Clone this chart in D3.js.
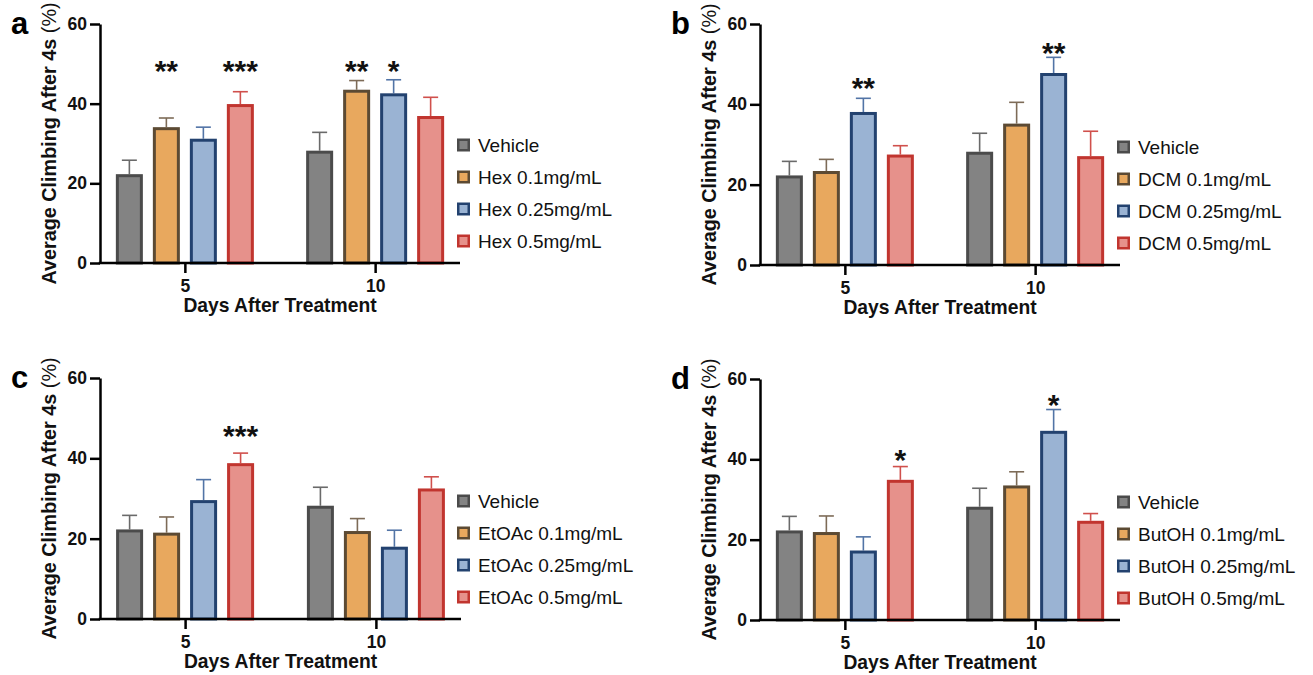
<!DOCTYPE html>
<html><head><meta charset="utf-8">
<script src="https://cdn.jsdelivr.net/npm/d3@7/dist/d3.min.js"></script>
<style>
html,body{margin:0;padding:0;background:#fff;}
svg{display:block;font-family:"Liberation Sans",Arial,Helvetica,sans-serif;}
</style></head>
<body><svg id="chart" width="1313" height="675"></svg>
<script>
// ---------- data ----------
const days = [5, 10];
const panelLetters = ["a", "b", "c", "d"];
const extracts = ["Hex", "DCM", "EtOAc", "ButOH"];
const doses = ["0.1mg/mL", "0.25mg/mL", "0.5mg/mL"];
const yTicks = [0, 20, 40, 60];
const yTitle = "Average Climbing After 4s";
const yTitleUnit = " (%)";
const xTitle = "Days After Treatment";

// vehicle (shared): mean per day, upper error (SEM)
const vehicleMean = [22.3, 28.2];
const vehicleErr = [3.5, 4.6];

// per extract: rows = dose (0.1, 0.25, 0.5), columns = day (5, 10)
const hexMean = [[34.1, 43.5], [31.2, 42.6], [39.9, 36.9]];
const hexErr = [[2.3, 2.3], [2.9, 3.4], [3.1, 4.7]];
const dcmMean = [[23.4, 35.2], [38.1, 47.8], [27.5, 27.1]];
const dcmErr = [[2.9, 5.3], [3.4, 3.9], [2.2, 6.2]];
const etoacMean = [[21.5, 21.9], [29.6, 18.0], [38.8, 32.5]];
const etoacErr = [[3.9, 3.1], [5.1, 4.1], [2.5, 2.9]];
const butohMean = [[21.9, 33.5], [17.3, 47.1], [34.9, 24.7]];
const butohErr = [[4.0, 3.4], [3.4, 5.3], [3.3, 1.8]];

// significance marks: series index (0 = vehicle), day, text, level (data units)
const hexStars = [{s: 1, day: 5, t: "**", v: 50}, {s: 3, day: 5, t: "***", v: 50}, {s: 1, day: 10, t: "**", v: 50}, {s: 2, day: 10, t: "*", v: 50}];
const dcmStars = [{s: 2, day: 5, t: "**", v: 46}, {s: 2, day: 10, t: "**", v: 54.7}];
const etoacStars = [{s: 3, day: 5, t: "***", v: 47.3}];
const butohStars = [{s: 3, day: 5, t: "*", v: 41.6}, {s: 2, day: 10, t: "*", v: 55.4}];

// ---------- styles ----------
const fills = ["#838383", "#e8a85e", "#9ab3d3", "#e6918b"];
const strokes = ["#4b4b4b", "#5c4a33", "#23426f", "#c1352f"];
const errColors = ["#6a6a6a", "#7d6b57", "#5274a6", "#d0504c"];

const panelMeans = [hexMean, dcmMean, etoacMean, butohMean];
const panelErrs = [hexErr, dcmErr, etoacErr, butohErr];
const panelStars = [hexStars, dcmStars, etoacStars, butohStars];
const layout = [
  {xl: 100, xr: 460, yt: 24, yz: 263},
  {xl: 760, xr: 1120, yt: 24, yz: 265},
  {xl: 100, xr: 461, yt: 378, yz: 619},
  {xl: 760, xr: 1120, yt: 379, yz: 620}
];

const svg = d3.select("#chart");

panelLetters.forEach((letter, p) => {
  const L = layout[p];
  const g = svg.append("g");
  const y = d3.scaleLinear().domain([0, 60]).range([L.yz, L.yt]);
  const x = d3.scalePoint().domain(days).range([L.xl, L.xr]).padding(0.446);
  const xi = d3.scaleBand().domain(d3.range(4)).range([-69, 69]).paddingInner(0.27);
  const bw = xi.bandwidth();

  const names = ["Vehicle"].concat(doses.map(d => extracts[p] + " " + d));
  const rows = [];
  days.forEach((day, di) => {
    rows.push({s: 0, day, m: vehicleMean[di], e: vehicleErr[di]});
    for (let k = 0; k < 3; k++) rows.push({s: k + 1, day, m: panelMeans[p][k][di], e: panelErrs[p][k][di]});
  });
  const cx = d => x(d.day) + xi(d.s) + bw / 2;

  // error bars
  const eb = g.append("g").selectAll("g").data(rows).join("g")
    .attr("stroke", d => errColors[d.s]).attr("stroke-width", 1.6).attr("fill", "none");
  eb.append("line").attr("x1", cx).attr("x2", cx).attr("y1", d => y(d.m)).attr("y2", d => y(d.m + d.e));
  eb.append("line").attr("x1", d => cx(d) - 7.5).attr("x2", d => cx(d) + 7.5)
    .attr("y1", d => y(d.m + d.e)).attr("y2", d => y(d.m + d.e));

  // bars
  g.append("g").selectAll("rect").data(rows).join("rect")
    .attr("x", d => x(d.day) + xi(d.s) + 1.5)
    .attr("width", bw - 3)
    .attr("y", d => y(d.m) + 1.5)
    .attr("height", d => y(0) - y(d.m) - 1.5)
    .attr("fill", d => fills[d.s]).attr("stroke", d => strokes[d.s]).attr("stroke-width", 3);

  // stars
  const fs = 30;
  g.append("g").selectAll("text").data(panelStars[p]).join("text")
    .attr("x", d => x(d.day) + xi(d.s) + bw / 2)
    .attr("y", d => y(d.v) + fs * 0.58)
    .attr("text-anchor", "middle").attr("font-size", fs).attr("font-weight", "bold").attr("fill", "#111")
    .text(d => d.t);

  // axes
  const ya = g.append("g").attr("transform", `translate(${L.xl},0)`)
    .call(d3.axisLeft(y).tickValues(yTicks).tickSize(10).tickSizeOuter(0).tickPadding(3));
  const xa = g.append("g").attr("transform", `translate(0,${L.yz})`)
    .call(d3.axisBottom(x).tickSize(10).tickSizeOuter(0).tickPadding(7));
  [ya, xa].forEach(a => {
    a.select(".domain").attr("stroke", "#000").attr("stroke-width", 2.5);
    a.selectAll(".tick line").attr("stroke", "#000").attr("stroke-width", 2.5);
    a.selectAll(".tick text").attr("fill", "#111").attr("font-size", 17.5).attr("font-weight", "bold")
      .attr("font-family", "Liberation Sans, Arial, sans-serif");
  });
  // x axis domain: extend to include y axis line
  xa.select(".domain").attr("d", `M${L.xl - 1.25},0H${L.xr}`);

  // axis titles
  const yt = g.append("text")
    .attr("transform", `translate(${L.xl - 44},${(L.yt + L.yz) / 2}) rotate(-90)`)
    .attr("text-anchor", "middle").attr("font-size", 19.8).attr("fill", "#111");
  yt.append("tspan").attr("font-weight", "bold").text(yTitle);
  yt.append("tspan").text(yTitleUnit);

  g.append("text").attr("x", (L.xl + L.xr) / 2).attr("y", L.yz + 49)
    .attr("text-anchor", "middle").attr("font-size", 19.3).attr("font-weight", "bold").attr("fill", "#111")
    .text(xTitle);

  // panel letter
  g.append("text").attr("x", L.xl - 89).attr("y", L.yt + 10)
    .attr("font-size", 31).attr("font-weight", "bold").attr("fill", "#000").text(letter);

  // legend
  const lg = g.append("g").selectAll("g").data(names).join("g")
    .attr("transform", (d, i) => `translate(${L.xl + 357},${L.yz - 118 + i * 32})`);
  lg.append("rect").attr("x", 1.25).attr("y", -5.25).attr("width", 10.5).attr("height", 10.5)
    .attr("fill", (d, i) => fills[i]).attr("stroke", (d, i) => strokes[i]).attr("stroke-width", 2.5);
  lg.append("text").attr("x", 21).attr("y", 0).attr("dy", "0.35em")
    .attr("font-size", 19).attr("fill", "#111").text(d => d);
});
</script>
</body></html>
